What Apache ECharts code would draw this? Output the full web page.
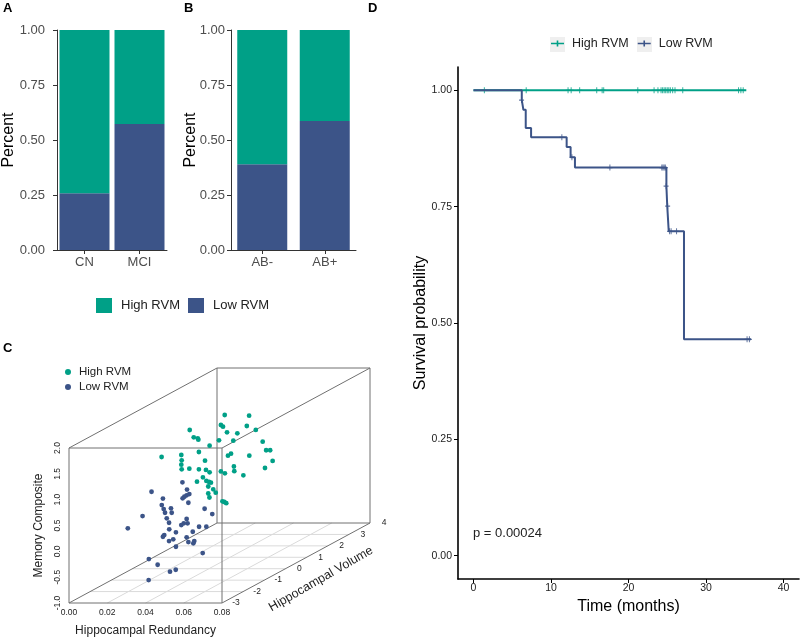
<!DOCTYPE html>
<html><head><meta charset="utf-8">
<script src="https://cdn.jsdelivr.net/npm/echarts@6/dist/echarts.min.js"></script>
<style>html,body{margin:0;padding:0;background:#fff}#c{width:800px;height:638px}</style>
</head><body><div id="c"></div>
<script>
// ---------- DATA ----------
const groupsA = ['CN', 'MCI'];
const lowA  = [0.258, 0.573];
const highA = [0.742, 0.427];
const groupsB = ['AB-', 'AB+'];
const lowB  = [0.390, 0.586];
const highB = [0.610, 0.414];

// Panel C: 3D scatter  (redundancy, volume, memory)
const highRedundancy = [0.0372,0.0389,0.0352,0.0363,0.0377,0.0189,0.0384,0.0438,0.0424,0.0210,0.0231,0.0234,0.0342,0.0417,0.0293,0.0460,0.0042,0.0145,0.0237,0.0269,0.0147,0.0145,0.0147,0.0187,0.0237,0.0274,0.0293,0.0258,0.0227,0.0276,0.0290,0.0300,0.0286,0.0312,0.0325,0.0286,0.0292,0.0360,0.0370,0.0380,0.0352,0.0373,0.0420,0.0422,0.0389,0.0405,0.0390,0.0359,0.0478,0.0499,0.0512,0.0472];
const highVolume = [1,2,1,1,2,1,1,1,2,1,1,1,1,1,1,2,1,1,1,1,1,1,1,1,1,1,1,1,1,1,1,1,1,1,1,1,1,1,1,1,1,1,1,1,1,1,2,2,2,2,2,2];
const highMemory = [1.754,1.520,1.560,1.528,1.320,1.464,1.419,1.400,1.243,1.322,1.303,1.276,1.264,1.257,1.160,1.016,0.941,0.980,1.038,0.870,0.877,0.792,0.703,0.715,0.703,0.690,0.645,0.548,0.463,0.477,0.457,0.444,0.370,0.316,0.250,0.235,0.157,0.084,0.070,0.047,0.661,0.626,0.757,0.666,0.966,1.005,0.745,0.366,0.850,0.850,0.643,0.507];
const lowRedundancy = [0.0372,0.0321,0.0396,0.0408,0.0394,0.0382,0.0373,0.0403,0.0270,0.0264,0.0274,0.0281,0.0312,0.0316,0.0488,0.0528,0.0274,0.0290,0.0302,0.0394,0.0399,0.0379,0.0366,0.0197,0.0303,0.0459,0.0497,0.0338,0.0277,0.0270,0.0426,0.0394,0.0324,0.0302,0.0403,0.0434,0.0429,0.0338,0.0478,0.0307,0.0353,0.0337,0.0307,0.0306];
const lowVolume = [-1,-2,-1,-1,-1,-1,-1,-1,-1,-1,-1,-1,-1,-1,-1,-1,-2,-1,-1,-1,-1,-1,-1,-2,-1,-1,-1,-1,-1,-1,-1,-1,-1,-1,-1,-1,-1,-1,-1,-2,-2,-1,-1,-2];
const lowMemory = [0.893,0.932,0.753,0.666,0.641,0.614,0.583,0.498,0.579,0.453,0.376,0.304,0.390,0.304,0.382,0.279,0.462,0.196,0.111,0.183,0.099,0.099,0.066,0.224,-0.017,0.033,0.033,-0.075,-0.127,-0.160,-0.063,-0.172,-0.210,-0.243,-0.263,-0.243,-0.288,-0.354,-0.476,-0.371,-0.481,-0.799,-0.837,-0.777];
const redundancyRange = [0, 0.08];
const volumeRange = [-3, 4];
const memoryRange = [-1, 2];
const redundancyTicks = [0.02, 0.04, 0.06];
const volumeTicks = [-3, -2, -1, 0, 1, 2, 3, 4];

// Panel D: Kaplan-Meier
const kmHighTime = [0, 35.2];
const kmHighSurv = [1, 1];
const highCensorTime = [1.4, 6.8, 12.2, 12.6, 13.7, 15.9, 16.6, 16.8, 21.2, 23.3, 23.8, 24.2, 24.4, 24.6, 24.8, 25.0, 25.2, 25.4, 25.7, 26.0, 27.0, 34.2, 34.5, 34.8];
const kmLowTime = [0, 6.23, 6.44, 6.74, 7.43, 12.02, 12.53, 13.09, 24.89, 25.0, 25.19, 27.16, 35.8];
const kmLowSurv = [1, 0.979, 0.958, 0.919, 0.899, 0.878, 0.856, 0.834, 0.794, 0.751, 0.697, 0.465, 0.465];
const lowCensorTime = [6.2, 11.4, 12.7, 17.6, 24.3, 24.45, 24.6, 24.75, 24.85, 25.05, 25.3, 25.5, 26.2, 35.3, 35.6];
const lowCensorSurv = [0.979, 0.899, 0.856, 0.834, 0.834, 0.834, 0.834, 0.834, 0.794, 0.751, 0.697, 0.697, 0.697, 0.465, 0.465];
const timeTicks = [0, 10, 20, 30, 40];
const survTicks = [0, 0.25, 0.5, 0.75, 1];
const pText = 'p = 0.00024';

// ---------- STYLE ----------
const FONT = '"Liberation Sans", Arial, Helvetica, sans-serif';
const GREEN = '#00A087', BLUE = '#3C5488';
const DEPTH_DX = 148, DEPTH_DY = -80;
const PLUS = 'path://M2,0h1v2h2v1h-2v2h-1v-2h-2v-1h2z';
const KM_ICON = 'path://M0,2.2h13v1.6h-13z M5.7,0h1.6v6h-1.6z';

const chart = echarts.init(document.getElementById('c'), null, {renderer: 'canvas'});

function zip(a, b) { return a.map((v, i) => [v, b[i]]); }

function proj(api, r, v, m) {
  const p = api.coord([r, m]);
  const d = (v - volumeRange[0]) / (volumeRange[1] - volumeRange[0]);
  return [p[0] + d * DEPTH_DX, p[1] + d * DEPTH_DY];
}

const boxEdges = [];
const R = redundancyRange, V = volumeRange, M = memoryRange;
for (const v of V) for (const m of M) boxEdges.push([R[0], v, m, R[1], v, m]);
for (const r of R) for (const m of M) boxEdges.push([r, V[0], m, r, V[1], m]);
for (const r of R) for (const v of V) boxEdges.push([r, v, M[0], r, v, M[1]]);
const floorLines = [];
for (const v of volumeTicks.slice(1, -1)) floorLines.push([R[0], v, M[0], R[1], v, M[0]]);
for (const r of redundancyTicks) floorLines.push([r, V[0], M[0], r, V[1], M[0]]);

function lineRender(color) {
  return function (params, api) {
    const a = proj(api, api.value(0), api.value(1), api.value(2));
    const b = proj(api, api.value(3), api.value(4), api.value(5));
    return {type: 'line', shape: {x1: a[0], y1: a[1], x2: b[0], y2: b[1]}, style: {stroke: color, lineWidth: 1}};
  };
}
function pointRender(params, api) {
  const p = proj(api, api.value(0), api.value(1), api.value(2));
  return {type: 'circle', shape: {cx: p[0], cy: p[1], r: 2.4}, style: {fill: api.visual('color')}};
}

function catAxis(grid, cats) {
  return {gridIndex: grid, type: 'category', data: cats, boundaryGap: true,
    axisLine: {show: true, lineStyle: {color: '#333', width: 1}},
    axisTick: {show: true, length: 4, alignWithLabel: true, lineStyle: {color: '#333'}},
    axisLabel: {fontSize: 13, color: '#4D4D4D', margin: 6, fontFamily: FONT}};
}
function pctAxis(grid, margin, gap) {
  return {gridIndex: grid, type: 'value', min: 0, max: 1, interval: 0.25, splitLine: {show: false},
    axisLine: {show: true, lineStyle: {color: '#333', width: 1}},
    axisTick: {show: true, length: 4, lineStyle: {color: '#333'}},
    axisLabel: {formatter: v => v.toFixed(2), fontSize: 13, color: '#4D4D4D', margin: margin, fontFamily: FONT},
    name: 'Percent', nameLocation: 'middle', nameGap: gap, nameMoveOverlap: false,
    nameTextStyle: {fontSize: 16, color: '#000', fontFamily: FONT}};
}

const option = {
  animation: false,
  textStyle: {fontFamily: FONT},
  grid: [
    {left: 55, top: 30, width: 112, height: 220},
    {left: 231, top: 30, width: 125, height: 220},
    {left: 69, top: 448, width: 153, height: 155},
    {left: 458, top: 67, width: 341, height: 512}
  ],
  xAxis: [
    catAxis(0, groupsA),
    catAxis(1, groupsB),
    {gridIndex: 2, type: 'value', min: redundancyRange[0], max: redundancyRange[1], interval: 0.02,
      axisLine: {show: false}, axisTick: {show: false}, splitLine: {show: false},
      axisLabel: {formatter: v => v.toFixed(2), fontSize: 8.5, color: '#222', margin: 5, fontFamily: FONT},
      name: 'Hippocampal Redundancy', nameLocation: 'middle', nameGap: 22,
      nameTextStyle: {fontSize: 12, color: '#222', fontFamily: FONT}},
    {gridIndex: 3, type: 'value', min: -2, max: 42, splitLine: {show: false},
      axisLine: {show: true, onZero: false, lineStyle: {color: '#000', width: 1.6}},
      axisTick: {show: true, length: 4, customValues: timeTicks, lineStyle: {color: '#000'}},
      axisLabel: {customValues: timeTicks, fontSize: 10.5, color: '#222', margin: 4, fontFamily: FONT},
      name: 'Time (months)', nameLocation: 'middle', nameGap: 14,
      nameTextStyle: {fontSize: 16, color: '#000', fontFamily: FONT}}
  ],
  yAxis: [
    pctAxis(0, 12, 40),
    pctAxis(1, 6, 32),
    {gridIndex: 2, type: 'value', min: memoryRange[0], max: memoryRange[1], interval: 0.5,
      axisLine: {show: false}, axisTick: {show: false}, splitLine: {show: false},
      axisLabel: {formatter: v => v.toFixed(1), rotate: 90, fontSize: 8.5, color: '#222', margin: 7, fontFamily: FONT},
      name: 'Memory Composite', nameLocation: 'middle', nameGap: 24,
      nameTextStyle: {fontSize: 12, color: '#222', fontFamily: FONT}},
    {gridIndex: 3, type: 'value', min: -0.05, max: 1.05, splitLine: {show: false},
      axisLine: {show: true, onZero: false, lineStyle: {color: '#000', width: 1.6}},
      axisTick: {show: true, length: 4, customValues: survTicks, lineStyle: {color: '#000'}},
      axisLabel: {customValues: survTicks, formatter: v => v.toFixed(2), fontSize: 10.5, color: '#222', margin: 6, fontFamily: FONT},
      name: 'Survival probability', nameLocation: 'middle', nameGap: 29, nameMoveOverlap: false,
      nameTextStyle: {fontSize: 16, color: '#000', fontFamily: FONT}}
  ],
  legend: [
    {left: 96, top: 298, padding: 0, itemWidth: 16, itemHeight: 15, itemGap: 8, icon: 'rect',
      textStyle: {fontSize: 13, color: '#222', padding: [0, 0, 0, 4], fontFamily: FONT},
      data: [{name: 'High RVM', itemStyle: {color: GREEN}}, {name: 'Low RVM', itemStyle: {color: BLUE}}], selectedMode: false},
    {left: 65, top: 366, padding: 0, orient: 'vertical', itemWidth: 6, itemHeight: 6, itemGap: 3, icon: 'circle',
      textStyle: {fontSize: 11.5, color: '#222', padding: [0, 0, 0, 3], fontFamily: FONT},
      data: [{name: 'High RVM', itemStyle: {color: GREEN}}, {name: 'Low RVM', itemStyle: {color: BLUE}}], selectedMode: false},
    {left: 551, top: 37, padding: 0, itemWidth: 13, itemHeight: 6, itemGap: 9, icon: KM_ICON,
      textStyle: {fontSize: 12.5, color: '#222', padding: [0, 0, 0, 3], fontFamily: FONT},
      data: [{name: 'High RVM', itemStyle: {color: GREEN}}, {name: 'Low RVM', itemStyle: {color: BLUE}}], selectedMode: false}
  ],
  graphic: [
    {type: 'text', left: 3, top: 2, style: {text: 'A', font: 'bold 13px ' + FONT, fill: '#000'}},
    {type: 'text', left: 184, top: 2, style: {text: 'B', font: 'bold 13px ' + FONT, fill: '#000'}},
    {type: 'text', left: 3, top: 342, style: {text: 'C', font: 'bold 13px ' + FONT, fill: '#000'}},
    {type: 'text', left: 368, top: 2, style: {text: 'D', font: 'bold 13px ' + FONT, fill: '#000'}},
    {type: 'rect', shape: {x: 550, y: 37, width: 15, height: 15}, style: {fill: '#EFEFEF'}, z: -1},
    {type: 'rect', shape: {x: 637, y: 37, width: 15, height: 15}, style: {fill: '#EFEFEF'}, z: -1},
    {type: 'text', x: 473, y: 533, style: {text: pText, font: '13px ' + FONT, fill: '#222', textAlign: 'left', textVerticalAlign: 'middle'}},
    {type: 'text', x: 321, y: 579, rotation: 30 * Math.PI / 180,
      style: {text: 'Hippocampal Volume', font: '12.5px ' + FONT, fill: '#222', textAlign: 'center', textVerticalAlign: 'middle'}}
  ],
  series: [
    {type: 'bar', name: 'Low RVM', xAxisIndex: 0, yAxisIndex: 0, stack: 'a', barWidth: 50, data: lowA, itemStyle: {color: BLUE}},
    {type: 'bar', name: 'High RVM', xAxisIndex: 0, yAxisIndex: 0, stack: 'a', barWidth: 50, data: highA, itemStyle: {color: GREEN}},
    {type: 'bar', name: 'Low RVM', xAxisIndex: 1, yAxisIndex: 1, stack: 'b', barWidth: 50, data: lowB, itemStyle: {color: BLUE}},
    {type: 'bar', name: 'High RVM', xAxisIndex: 1, yAxisIndex: 1, stack: 'b', barWidth: 50, data: highB, itemStyle: {color: GREEN}},
    {type: 'custom', xAxisIndex: 2, yAxisIndex: 2, silent: true, data: floorLines, renderItem: lineRender('#DADADA'), z: 1},
    {type: 'custom', xAxisIndex: 2, yAxisIndex: 2, silent: true, data: boxEdges, renderItem: lineRender('#707070'), z: 2},
    {type: 'custom', xAxisIndex: 2, yAxisIndex: 2, silent: true, data: volumeTicks.map(v => [v]),
      renderItem: function (params, api) {
        const v = api.value(0);
        const p = proj(api, redundancyRange[1], v, memoryRange[0]);
        return {type: 'text', x: p[0] + 14, y: p[1], style: {text: String(v), font: '8.5px ' + FONT, fill: '#222', textAlign: 'center', textVerticalAlign: 'middle'}};
      }, z: 2},
    {type: 'custom', name: 'High RVM', xAxisIndex: 2, yAxisIndex: 2, itemStyle: {color: GREEN}, z: 3,
      data: highRedundancy.map((r, i) => [r, highVolume[i], highMemory[i]]), renderItem: pointRender},
    {type: 'custom', name: 'Low RVM', xAxisIndex: 2, yAxisIndex: 2, itemStyle: {color: BLUE}, z: 3,
      data: lowRedundancy.map((r, i) => [r, lowVolume[i], lowMemory[i]]), renderItem: pointRender},
    {type: 'line', name: 'High RVM', xAxisIndex: 3, yAxisIndex: 3, step: 'end', showSymbol: false, symbol: 'none',
      data: zip(kmHighTime, kmHighSurv), lineStyle: {color: GREEN, width: 2}, itemStyle: {color: GREEN}, z: 2},
    {type: 'scatter', name: 'High RVM', xAxisIndex: 3, yAxisIndex: 3, symbol: PLUS, symbolSize: [5, 6],
      data: highCensorTime.map(t => [t, 1]), itemStyle: {color: GREEN}, z: 3},
    {type: 'line', name: 'Low RVM', xAxisIndex: 3, yAxisIndex: 3, step: 'end', showSymbol: false, symbol: 'none',
      data: zip(kmLowTime, kmLowSurv), lineStyle: {color: BLUE, width: 2}, itemStyle: {color: BLUE}, z: 4},
    {type: 'scatter', name: 'Low RVM', xAxisIndex: 3, yAxisIndex: 3, symbol: PLUS, symbolSize: [5, 6],
      data: zip(lowCensorTime, lowCensorSurv), itemStyle: {color: BLUE}, z: 5}
  ]
};
chart.setOption(option);
</script>
</body></html>
